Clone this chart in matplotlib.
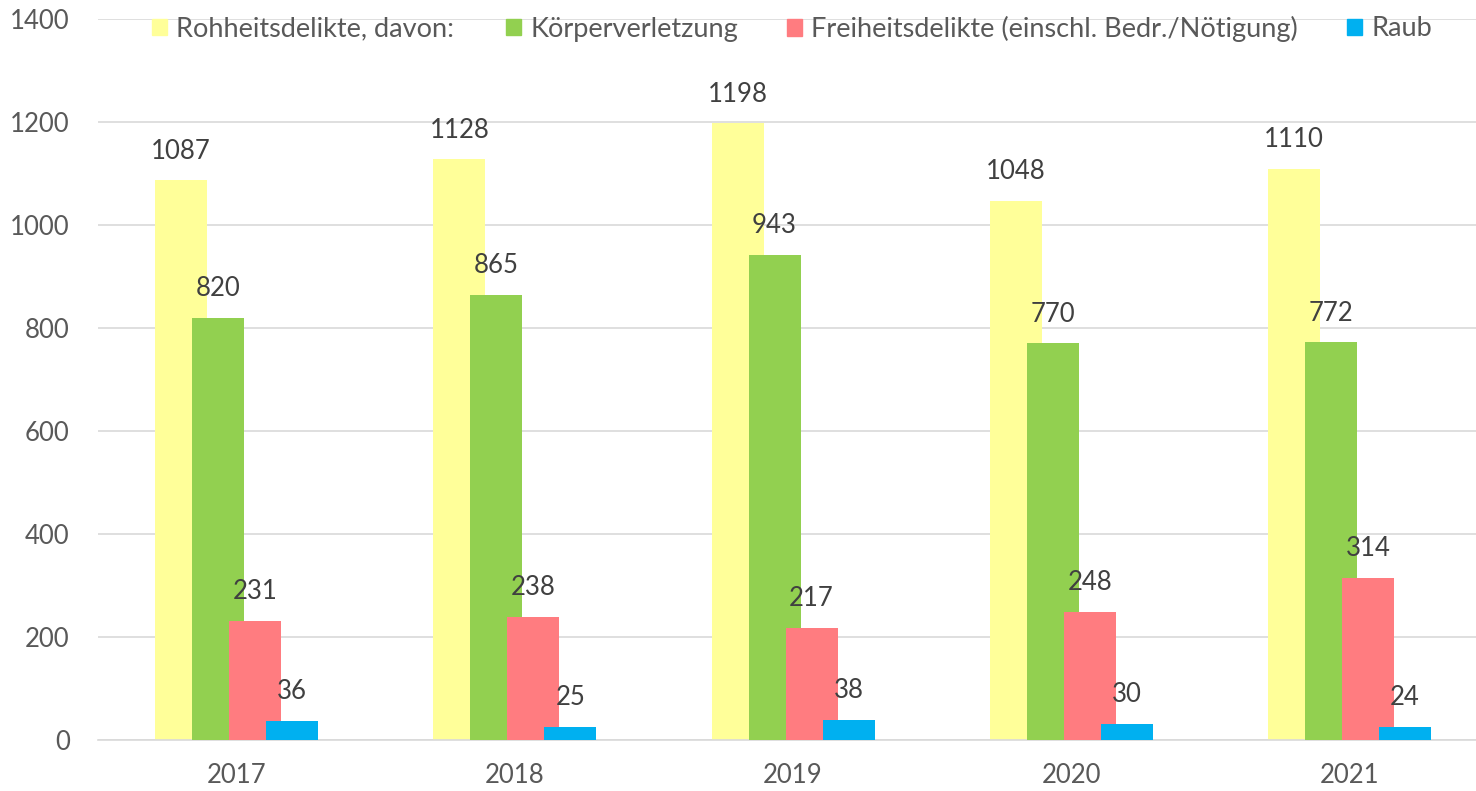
import matplotlib
matplotlib.use("Agg")
import matplotlib.pyplot as plt
import matplotlib.patches as mpatches
import numpy as np

years = ["2017", "2018", "2019", "2020", "2021"]
series_names = ["Rohheitsdelikte, davon:", "Körperverletzung",
                "Freiheitsdelikte (einschl. Bedr./Nötigung)", "Raub"]
rohheit = [1087, 1128, 1198, 1048, 1110]
koerper = [820, 865, 943, 770, 772]
freiheit = [231, 238, 217, 248, 314]
raub = [36, 25, 38, 30, 24]
colors = ["#FFFF99", "#92D050", "#FF7C80", "#00B0F0"]
yticks = [0, 200, 400, 600, 800, 1000, 1200, 1400]

plt.rcParams['font.family'] = ['Lato', 'DejaVu Sans']

W, H = 1476, 791
fig = plt.figure(figsize=(W / 100, H / 100), dpi=100)
left_px, right_px = 97.5, 1488.6
top_px, bot_px = 19.5, 739.5
ax = fig.add_axes([left_px / W, 1 - bot_px / H, (right_px - left_px) / W, (bot_px - top_px) / H])

x = np.arange(len(years))
width = 0.187
step = 0.133
all_series = [rohheit, koerper, freiheit, raub]
for i, (vals, c, name) in enumerate(zip(all_series, colors, series_names)):
    pos = x + (i - 1.5) * step
    bars = ax.bar(pos, vals, width=width, color=c, label=name, zorder=2 + i)
    for b, v in zip(bars, vals):
        ax.annotate(str(v), (b.get_x() + b.get_width() / 2, v), xytext=(0, 12),
                    textcoords="offset points", ha="center", va="bottom",
                    fontsize=18.5, color="#404040", zorder=10)

ax.set_xlim(-0.5, len(years) - 0.5)
ax.set_ylim(0, 1400)
ax.set_yticks(yticks)
ax.set_xticks(x)
ax.set_xticklabels(years)
ax.tick_params(axis="both", length=0, labelsize=18.5, colors="#595959")
ax.tick_params(axis="y", pad=20)
ax.tick_params(axis="x", pad=17)
ax.grid(axis="y", color="#D9D9D9", linewidth=1.2, zorder=0)
ax.set_axisbelow(True)
for s in ["top", "right", "left"]:
    ax.spines[s].set_visible(False)
ax.spines["bottom"].set_color("#D9D9D9")
ax.spines["bottom"].set_linewidth(1.2)

# legend: one entry per legend, placed like the original
marker_left_px = [152, 506, 787, 1347]
fs = 19.5
hl = 10.8 / fs
for name, c, mx in zip(series_names, colors, marker_left_px):
    leg = fig.legend([mpatches.Patch(color=c)], [name], loc="center left",
                     bbox_to_anchor=(mx / W, 1 - 29 / H), frameon=False, fontsize=fs,
                     handlelength=hl, handleheight=hl, handletextpad=0.34,
                     borderpad=0, borderaxespad=0)
    for t in leg.get_texts():
        t.set_color("#595959")

fig.savefig("out.png", dpi=100)
